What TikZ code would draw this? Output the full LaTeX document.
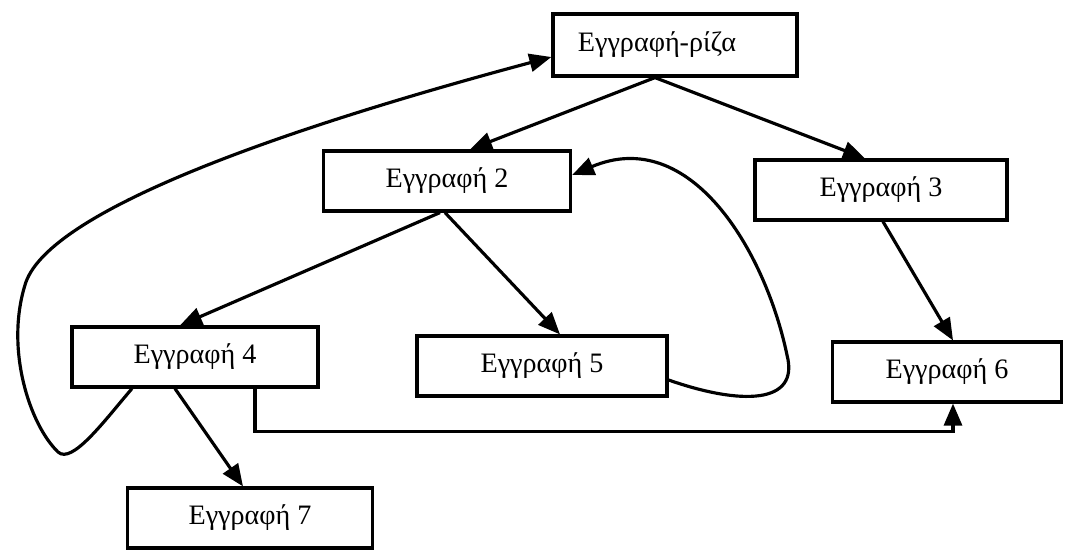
\documentclass[tikz,border=0pt]{standalone}
\usepackage{fontspec}
\setmainfont{Liberation Serif}
\usetikzlibrary{arrows.meta}

\begin{document}
\begin{tikzpicture}[x=0.01cm, y=-0.01cm, line width=0.9pt,
    box/.style={draw, rectangle, inner sep=0, minimum height=0.6cm, font=\fontsize{8}{10}\selectfont},
    arr/.style={-{Triangle[length=2.2mm, width=1.8mm]}}]
    \useasboundingbox (0, 0) rectangle (1072, 551);

    \node[box, minimum width=2.44cm, minimum height=0.62cm] (e1) at (675, 45) {Εγγραφή-ρίζα\kern0.36cm};

    \foreach \i/\x/\y/\w in {2/447/181/2.47, 3/881/190/2.52, 4/195/357/2.46, 5/542/366/2.5, 6/947/372/2.29, 7/250/518/2.45}
    {
        \node[box, minimum width=\w cm] (e\i) at (\x, \y) {Εγγραφή \i};
    }

    \draw[arr] ([xshift=-0.2cm]e1.south) -- ([xshift=0.23cm]e2.north);
    \draw[arr] ([xshift=-0.2cm]e1.south) -- ([xshift=-0.16cm]e3.north);
    \draw[arr] ([xshift=-0.07cm]e2.south) -- ([xshift=-0.15cm]e4.north);
    \draw[arr] ([xshift=-0.02cm]e2.south) -- ([xshift=0.18cm]e5.north);
    \draw[arr] ([xshift=0.02cm]e3.south) -- ([xshift=0.06cm]e6.north);
    \draw[arr] ([xshift=-0.2cm]e4.south) -- ([xshift=-0.07cm]e7.north);

    \draw[arr] ([xshift=0.6cm]e4.south) -- ++(0, 43) -| ([xshift=0.06cm]e6.south);

    \draw[arr] ([yshift=-0.14cm]e5.east) .. controls (740, 405) and (800, 405) .. (787, 355)
        .. controls (765, 250) and (690, 125) .. ([yshift=0.06cm]e2.east);

    \draw[arr] ([xshift=-0.63cm]e4.south) .. controls (105, 420) and (72, 465) .. (58, 452)
        .. controls (30, 425) and (5, 350) .. (25, 285)
        .. controls (45, 215) and (260, 135) .. ([yshift=-0.12cm]e1.west);
\end{tikzpicture}
\end{document}
